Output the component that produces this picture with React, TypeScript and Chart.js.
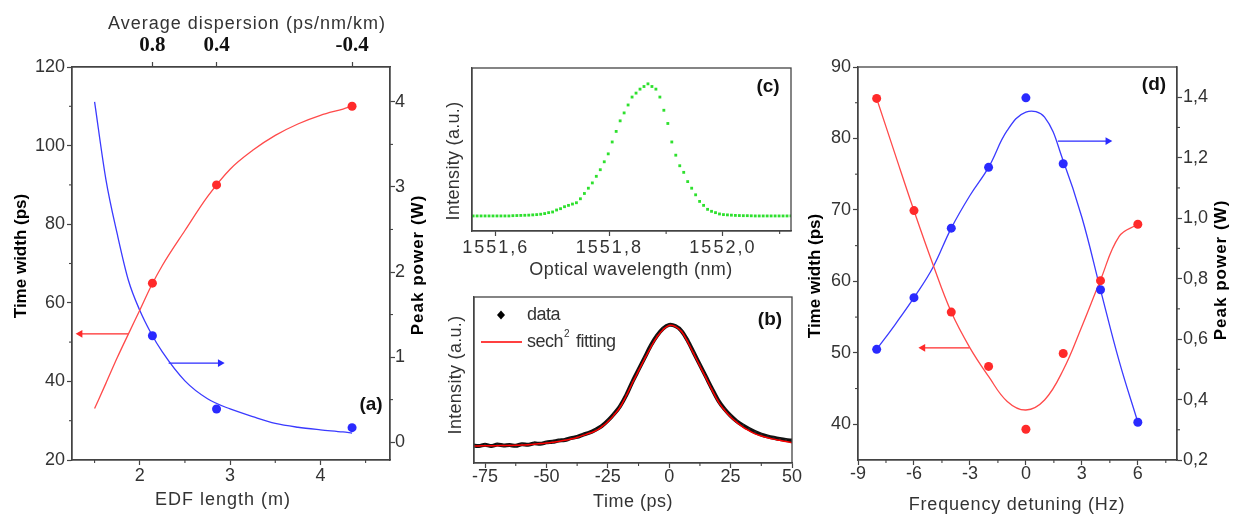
import { useEffect, useRef } from 'react';
import { Chart, registerables } from 'chart.js';

Chart.register(...registerables);

const FONT = "'Liberation Sans', Arial, sans-serif";
const SERIF = "'Liberation Serif', 'Times New Roman', serif";
const INK = '#444';
const TEXT = '#333';
const RED = '#ff2a2a';
const BLUE = '#2a2aff';

// (a) EDF length sweep
const edfLength = [2.14, 2.85, 4.35];
const edfWidth = [65, 90, 110];
const edfPower = [1.25, 0.39, 0.17];
const edfFitX = [1.5, 1.625, 1.75, 1.875, 2.0, 2.125, 2.25, 2.5, 2.75, 3.0, 3.25, 3.5, 3.75, 4.0, 4.25, 4.35];
const edfWidthFitY = [33.1, 39.5, 46, 52.1, 58.1, 64.2, 69.5, 78.4, 87, 94, 98.8, 102.6, 105.5, 107.7, 109.3, 110];
const edfPowerFitY = [4.0, 3.09, 2.45, 1.9, 1.55, 1.28, 1.06, 0.72, 0.51, 0.39, 0.3, 0.22, 0.175, 0.145, 0.12, 0.107];
const edfWidthArrowX = [1.875, 1.34];
const edfWidthArrowY = [52.1, 52.1];
const edfPowerArrowX = [2.32, 2.89];
const edfPowerArrowY = [0.93, 0.93];
const dispersionPos = [2.14, 2.85, 4.35];
const dispersionLabels = ['0.8', '0.4', '-0.4'];

// (c) optical spectrum
const wavelength = [
  1551.56, 1551.567, 1551.574, 1551.581, 1551.588, 1551.595, 1551.602, 1551.609, 1551.616, 1551.623,
  1551.63, 1551.637, 1551.644, 1551.651, 1551.658, 1551.665, 1551.672, 1551.679, 1551.686, 1551.693,
  1551.7, 1551.707, 1551.714, 1551.721, 1551.728, 1551.735, 1551.742, 1551.749, 1551.756, 1551.763,
  1551.77, 1551.777, 1551.784, 1551.791, 1551.798, 1551.805, 1551.812, 1551.819, 1551.826, 1551.833,
  1551.84, 1551.847, 1551.854, 1551.861, 1551.868, 1551.875, 1551.882, 1551.889, 1551.896, 1551.903,
  1551.91, 1551.917, 1551.924, 1551.931, 1551.938, 1551.945, 1551.952, 1551.959, 1551.966, 1551.973,
  1551.98, 1551.987, 1551.994, 1552.001, 1552.008, 1552.015, 1552.022, 1552.029, 1552.036, 1552.043,
  1552.05, 1552.057, 1552.064, 1552.071, 1552.078, 1552.085, 1552.092, 1552.099, 1552.106, 1552.113,
  1552.12,
];
const spectrum = [
  0, 0, 0, 0, 0, 0, 0, 0, 0, 0,
  0.002, 0.003, 0.004, 0.005, 0.006, 0.008, 0.01, 0.013, 0.018, 0.025,
  0.03, 0.045, 0.055, 0.07, 0.08, 0.09, 0.1, 0.13, 0.17, 0.21,
  0.25, 0.3, 0.35, 0.41, 0.47, 0.56, 0.64, 0.72, 0.78, 0.84,
  0.9, 0.93, 0.96, 0.98, 1.0, 0.98, 0.96, 0.9, 0.8, 0.7,
  0.56, 0.46, 0.38, 0.33, 0.26, 0.21, 0.16, 0.11, 0.08, 0.05,
  0.035, 0.025, 0.015, 0.01, 0.008, 0.006, 0.004, 0.003, 0.002, 0.002,
  0.001, 0, 0, 0, 0, 0, 0, 0, 0, 0,
  0,
];

// (b) autocorrelation trace
const timePs = [
  -80, -77.5, -75, -72.5, -70, -67.5, -65, -62.5, -60, -57.5,
  -55, -52.5, -50, -47.5, -45, -42.5, -40, -37.5, -35, -32.5,
  -30, -27.5, -25, -22.5, -20, -17.5, -15, -12.5, -10, -7.5,
  -5, -2.5, 0, 2.5, 5, 7.5, 10, 12.5, 15, 17.5,
  20, 22.5, 25, 27.5, 30, 32.5, 35, 37.5, 40, 42.5,
  45, 47.5, 50,
];
const traceData = [
  0.005, 0.0, 0.01, 0.0, 0.012, 0.004, 0.008, 0.002, 0.015, 0.01,
  0.022, 0.018, 0.03, 0.035, 0.045, 0.05, 0.065, 0.075, 0.095, 0.11,
  0.135, 0.165, 0.21, 0.265, 0.33, 0.42, 0.53, 0.63, 0.73, 0.83,
  0.91, 0.97, 1.0, 0.99, 0.95, 0.87, 0.77, 0.67, 0.57, 0.47,
  0.375, 0.305, 0.25, 0.205, 0.17, 0.14, 0.115, 0.095, 0.08, 0.068,
  0.058, 0.05, 0.045,
];
const traceFit = [
  0, 0.001, 0.002, 0.002, 0.003, 0.004, 0.005, 0.006, 0.008, 0.011,
  0.015, 0.02, 0.025, 0.031, 0.038, 0.047, 0.058, 0.071, 0.088, 0.105,
  0.125, 0.158, 0.2, 0.255, 0.32, 0.415, 0.52, 0.62, 0.72, 0.815,
  0.9, 0.96, 0.995, 0.985, 0.945, 0.86, 0.76, 0.66, 0.56, 0.46,
  0.365, 0.295, 0.24, 0.195, 0.157, 0.127, 0.1, 0.083, 0.069, 0.057,
  0.047, 0.037, 0.028,
];

// (d) frequency detuning sweep
const detuning = [-8, -6, -4, -2, 0, 2, 4, 6];
const detWidth = [85.6, 69.9, 55.7, 48.1, 39.3, 49.9, 60.1, 68.0];
const detPower = [0.566, 0.737, 0.967, 1.168, 1.398, 1.18, 0.763, 0.325];
const detFitX = [-8, -7, -6, -5, -4, -3, -2, -1, 0, 1, 2, 3, 4, 5, 6];
const detWidthFitY = [85.6, 77.7, 69.9, 62.5, 55.7, 50.7, 46.7, 43.2, 42.0, 43.4, 47.6, 53.7, 60.2, 66.3, 68.0];
const detPowerFitY = [0.566, 0.649, 0.737, 0.835, 0.967, 1.075, 1.168, 1.29, 1.351, 1.334, 1.19, 1.003, 0.763, 0.527, 0.325];
const detWidthArrowX = [-3.02, -5.52];
const detWidthArrowY = [50.7, 50.7];
const detPowerArrowX = [1.71, 4.39];
const detPowerArrowY = [1.255, 1.255];

const xy = (xs: number[], ys: number[]) => xs.map((x, i) => ({ x, y: ys[i] }));
const comma = (v: number) => v.toFixed(1).replace('.', ',');

const tickFont = { family: FONT, size: 18, lineHeight: 1 };

type AxisSpec = {
  position: 'left' | 'right' | 'top' | 'bottom';
  min: number;
  max: number;
  ticks?: number[];
  size: number;
  pad?: number;
  label?: (v: number, i: number) => string;
  font?: any;
  color?: string;
};

function axis(s: AxisSpec) {
  const horizontal = s.position === 'top' || s.position === 'bottom';
  const showTicks = !!s.ticks;
  return {
    type: 'linear',
    position: s.position,
    min: s.min,
    max: s.max,
    afterBuildTicks: (sc: any) => {
      sc.ticks = (s.ticks || []).map((v) => ({ value: v }));
    },
    afterFit: (sc: any) => {
      if (horizontal) sc.height = s.size;
      else sc.width = s.size;
    },
    grid: { drawOnChartArea: false, drawTicks: showTicks, tickLength: 5, tickColor: INK, color: INK, tickWidth: 1.2 },
    border: { display: true, color: INK, width: 1.3 },
    ticks: {
      display: showTicks,
      font: s.font || tickFont,
      color: s.color || TEXT,
      padding: s.pad ?? 2,
      autoSkip: false,
      maxRotation: 0,
      callback: (v: number, i: number) => (s.label ? s.label(v, i) : String(v)),
    },
    title: { display: false },
  };
}

// letter spacing used by Chart.js for the tick labels of one chart
function tickSpacing(px: number) {
  return {
    id: 'tickSpacing',
    beforeDraw(chart: any) {
      chart.ctx.letterSpacing = `${px}px`;
    },
  };
}

// short outward minor ticks
function minorTicks(map: Record<string, number[]>) {
  return {
    id: 'minorTicks',
    afterDraw(chart: any) {
      const ctx = chart.ctx;
      ctx.save();
      ctx.strokeStyle = INK;
      ctx.lineWidth = 1.1;
      for (const id of Object.keys(map)) {
        const s = chart.scales[id];
        if (!s) continue;
        for (const v of map[id]) {
          const p = s.getPixelForValue(v);
          ctx.beginPath();
          if (s.isHorizontal()) {
            const y = s.options.position === 'top' ? s.bottom : s.top;
            const d = s.options.position === 'top' ? -3 : 3;
            ctx.moveTo(p, y);
            ctx.lineTo(p, y + d);
          } else {
            const x = s.options.position === 'right' ? s.left : s.right;
            const d = s.options.position === 'right' ? 3 : -3;
            ctx.moveTo(x, p);
            ctx.lineTo(x + d, p);
          }
          ctx.stroke();
        }
      }
      ctx.restore();
    },
  };
}

const framePlugin = {
  id: 'frame',
  afterDraw(chart: any) {
    const { ctx, chartArea: a } = chart;
    ctx.save();
    ctx.strokeStyle = INK;
    ctx.lineWidth = 1.3;
    ctx.strokeRect(a.left, a.top, a.right - a.left, a.bottom - a.top);
    ctx.restore();
  },
};

function panelTag(text: string, dx: number, dy: number) {
  return {
    id: 'panelTag',
    afterDraw(chart: any) {
      const { ctx, chartArea: a } = chart;
      ctx.save();
      ctx.letterSpacing = '0px';
      ctx.font = `bold 19px ${FONT}`;
      ctx.fillStyle = '#111';
      ctx.textAlign = 'center';
      ctx.textBaseline = 'middle';
      ctx.fillText(text, a.right - dx, a.top + dy);
      ctx.restore();
    },
  };
}

type TitleSpec = { text: string; x: number; y: number; vertical?: boolean; bold?: boolean; spacing?: number };

// axis titles, placed in canvas pixels
function axisTitles(list: TitleSpec[]) {
  return {
    id: 'axisTitles',
    afterDraw(chart: any) {
      const ctx = chart.ctx;
      for (const t of list) {
        ctx.save();
        ctx.translate(t.x, t.y);
        if (t.vertical) ctx.rotate(-Math.PI / 2);
        ctx.letterSpacing = `${t.spacing ?? 0}px`;
        ctx.font = t.bold ? `bold 17px ${FONT}` : `18px ${FONT}`;
        ctx.fillStyle = t.bold ? '#000' : TEXT;
        ctx.textAlign = 'center';
        ctx.textBaseline = 'middle';
        ctx.fillText(t.text, 0, 0);
        ctx.restore();
      }
    },
  };
}

const traceLegend = {
  id: 'traceLegend',
  afterDraw(chart: any) {
    const { ctx, chartArea: a } = chart;
    ctx.save();
    const mx = a.left + 27;
    const my = a.top + 18;
    ctx.fillStyle = '#000';
    ctx.beginPath();
    ctx.moveTo(mx, my - 4.5);
    ctx.lineTo(mx + 4, my);
    ctx.lineTo(mx, my + 4.5);
    ctx.lineTo(mx - 4, my);
    ctx.closePath();
    ctx.fill();
    ctx.letterSpacing = '-0.5px';
    ctx.font = `18px ${FONT}`;
    ctx.fillStyle = TEXT;
    ctx.textAlign = 'left';
    ctx.textBaseline = 'middle';
    ctx.fillText('data', a.left + 53, my);
    const ly = a.top + 45;
    ctx.strokeStyle = '#ff0000';
    ctx.lineWidth = 1.5;
    ctx.beginPath();
    ctx.moveTo(a.left + 7, ly);
    ctx.lineTo(a.left + 48, ly);
    ctx.stroke();
    ctx.fillText('sech', a.left + 53, ly);
    const w = ctx.measureText('sech').width;
    ctx.font = `10px ${FONT}`;
    ctx.fillText('2', a.left + 54 + w, ly - 8);
    ctx.font = `18px ${FONT}`;
    ctx.fillText('fitting', a.left + 102, ly);
    ctx.restore();
  },
};

const points = (data: any[], color: string, yAxisID: string, r = 4.5) => ({
  data,
  yAxisID,
  xAxisID: 'x',
  showLine: false,
  pointRadius: r,
  pointHoverRadius: r,
  pointBackgroundColor: color,
  pointBorderWidth: 0,
  borderColor: color,
});

const fitLine = (data: any[], color: string, yAxisID: string, width = 1.3, monotone = false) => ({
  data,
  yAxisID,
  xAxisID: 'x',
  borderColor: color,
  borderWidth: width,
  pointRadius: 0,
  tension: 0.4,
  cubicInterpolationMode: monotone ? 'monotone' : 'default',
});

const arrow = (data: any[], color: string, yAxisID: string, rotation: number) => ({
  data,
  yAxisID,
  xAxisID: 'x',
  borderColor: color,
  borderWidth: 1.3,
  tension: 0,
  pointRadius: [0, 4.5],
  pointStyle: 'triangle',
  pointRotation: rotation,
  pointBackgroundColor: color,
  pointBorderWidth: 0,
});

const baseOptions = (padding: any) => ({
  responsive: false,
  animation: false,
  events: [],
  layout: { padding },
  plugins: { legend: { display: false }, tooltip: { enabled: false } },
});

export default function App() {
  const aRef = useRef<HTMLCanvasElement | null>(null);
  const cRef = useRef<HTMLCanvasElement | null>(null);
  const bRef = useRef<HTMLCanvasElement | null>(null);
  const dRef = useRef<HTMLCanvasElement | null>(null);

  useEffect(() => {
    const charts: Chart[] = [];

    if (aRef.current) {
      charts.push(
        new Chart(aRef.current, {
          type: 'line',
          data: {
            datasets: [
              points(xy(edfLength, edfWidth), RED, 'y'),
              points(xy(edfLength, edfPower), BLUE, 'y2'),
              fitLine(xy(edfFitX, edfWidthFitY), '#ff4a4a', 'y', 1.3, true),
              fitLine(xy(edfFitX, edfPowerFitY), '#3a3aff', 'y2', 1.3, true),
              arrow(xy(edfWidthArrowX, edfWidthArrowY), RED, 'y', -90),
              arrow(xy(edfPowerArrowX, edfPowerArrowY), BLUE, 'y2', 90),
            ],
          },
          options: {
            ...baseOptions({ left: 0, right: 0, top: 0, bottom: 0 }),
            scales: {
              x: axis({ position: 'bottom', min: 1.25, max: 4.77, ticks: [2, 3, 4], size: 56, pad: 2 }),
              xTop: axis({
                position: 'top', min: 1.25, max: 4.77, ticks: dispersionPos, size: 67, pad: 6,
                label: (_v, i) => dispersionLabels[i],
                font: { family: SERIF, size: 21, weight: 'bold', lineHeight: 1 },
                color: '#111',
              }),
              y: axis({ position: 'left', min: 20, max: 120, ticks: [20, 40, 60, 80, 100, 120], size: 72, pad: 2 }),
              y2: axis({ position: 'right', min: -0.21, max: 4.41, ticks: [0, 1, 2, 3, 4], size: 40, pad: 0 }),
            },
          } as any,
          plugins: [
            tickSpacing(0),
            framePlugin,
            minorTicks({ x: [1.5, 2.5, 3.5, 4.5], y: [30, 50, 70, 90, 110], y2: [0.5, 1.5, 2.5, 3.5] }),
            panelTag('(a)', 19, 338),
            axisTitles([
              { text: 'Average dispersion (ps/nm/km)', x: 247, y: 24, spacing: 1 },
              { text: 'EDF length (m)', x: 223, y: 500, spacing: 1 },
              { text: 'Time width (ps)', x: 21, y: 256, vertical: true, bold: true },
              { text: 'Peak power (W)', x: 418, y: 265, vertical: true, bold: true, spacing: 1 },
            ]),
          ],
        } as any)
      );
    }

    if (cRef.current) {
      charts.push(
        new Chart(cRef.current, {
          type: 'line',
          data: {
            datasets: [points(xy(wavelength, spectrum), '#2ee02e', 'y', 2)],
          },
          options: {
            ...baseOptions({ left: 0, right: 24, top: 18, bottom: 0 }),
            elements: { point: { pointStyle: 'rect' } },
            scales: {
              x: axis({ position: 'bottom', min: 1551.558, max: 1552.12, ticks: [1551.6, 1551.8, 1552.0], size: 59, pad: 3, label: (v) => comma(v) }),
              y: axis({ position: 'left', min: -0.114, max: 1.12, size: 47 }),
            },
          } as any,
          plugins: [
            tickSpacing(2),
            framePlugin,
            minorTicks({ x: [1551.7, 1551.9, 1552.1] }),
            panelTag('(c)', 23, 19),
            axisTitles([
              { text: 'Optical wavelength (nm)', x: 206, y: 220, spacing: 0.4 },
              { text: 'Intensity (a.u.)', x: 29, y: 111, vertical: true, spacing: 0.3 },
            ]),
          ],
        } as any)
      );
    }

    if (bRef.current) {
      charts.push(
        new Chart(bRef.current, {
          type: 'line',
          data: {
            datasets: [
              fitLine(xy(timePs, traceFit), '#ff0000', 'y', 1.5),
              {
                data: xy(timePs, traceData),
                yAxisID: 'y',
                xAxisID: 'x',
                borderColor: '#111',
                borderWidth: 4,
                tension: 0.3,
                pointRadius: 1.6,
                pointStyle: 'rect',
                pointBackgroundColor: '#222',
                pointBorderWidth: 0,
              },
            ],
          },
          options: {
            ...baseOptions({ left: 0, right: 23, top: 7, bottom: 0 }),
            scales: {
              x: axis({ position: 'bottom', min: -79.5, max: 50, ticks: [-75, -50, -25, 0, 25, 50], size: 53, pad: 0 }),
              y: axis({ position: 'left', min: -0.14, max: 1.23, size: 49 }),
            },
          } as any,
          plugins: [
            tickSpacing(0),
            framePlugin,
            minorTicks({ x: [-62.5, -37.5, -12.5, 12.5, 37.5] }),
            panelTag('(b)', 22, 23),
            traceLegend,
            axisTitles([
              { text: 'Time (ps)', x: 208, y: 212, spacing: 0.5 },
              { text: 'Intensity (a.u.)', x: 31, y: 85, vertical: true, spacing: 0.3 },
            ]),
          ],
        } as any)
      );
    }

    if (dRef.current) {
      charts.push(
        new Chart(dRef.current, {
          type: 'line',
          data: {
            datasets: [
              points(xy(detuning, detWidth), RED, 'y'),
              points(xy(detuning, detPower), BLUE, 'y2'),
              fitLine(xy(detFitX, detWidthFitY), '#ff4a4a', 'y'),
              fitLine(xy(detFitX, detPowerFitY), '#3a3aff', 'y2'),
              arrow(xy(detWidthArrowX, detWidthArrowY), RED, 'y', -90),
              arrow(xy(detPowerArrowX, detPowerArrowY), BLUE, 'y2', 90),
            ],
          },
          options: {
            ...baseOptions({ left: 0, right: 0, top: 67, bottom: 0 }),
            scales: {
              x: axis({ position: 'bottom', min: -9, max: 8.1, ticks: [-9, -6, -3, 0, 3, 6], size: 56, pad: 0 }),
              y: axis({ position: 'left', min: 35, max: 90, ticks: [40, 50, 60, 70, 80, 90], size: 58, pad: 2 }),
              y2: axis({ position: 'right', min: 0.2, max: 1.5, ticks: [0.2, 0.4, 0.6, 0.8, 1.0, 1.2, 1.4], size: 60, pad: 1, label: (v) => comma(v) }),
            },
          } as any,
          plugins: [
            tickSpacing(0),
            framePlugin,
            minorTicks({
              x: [-7.5, -4.5, -1.5, 1.5, 4.5, 7.5],
              y: [45, 55, 65, 75, 85],
              y2: [0.3, 0.5, 0.7, 0.9, 1.1, 1.3],
            }),
            panelTag('(d)', 23, 18),
            axisTitles([
              { text: 'Frequency detuning (Hz)', x: 217, y: 505, spacing: 0.8 },
              { text: 'Time width (ps)', x: 15, y: 276, vertical: true, bold: true },
              { text: 'Peak power (W)', x: 421.7, y: 270, vertical: true, bold: true, spacing: 1 },
            ]),
          ],
        } as any)
      );
    }

    return () => {
      charts.forEach((c) => c.destroy());
    };
  }, []);

  const place = (left: number, top: number, w: number, h: number) => ({
    position: 'absolute' as const,
    left,
    top,
    width: w,
    height: h,
  });

  return (
    <div style={{ position: 'absolute', left: 0, top: 0, width: 1237, height: 516, background: '#fff' }}>
      <canvas ref={aRef} width={430} height={516} style={place(0, 0, 430, 516)} />
      <canvas ref={cRef} width={390} height={240} style={place(425, 50, 390, 240)} />
      <canvas ref={bRef} width={390} height={226} style={place(425, 290, 390, 226)} />
      <canvas ref={dRef} width={437} height={516} style={place(800, 0, 437, 516)} />
    </div>
  );
}
